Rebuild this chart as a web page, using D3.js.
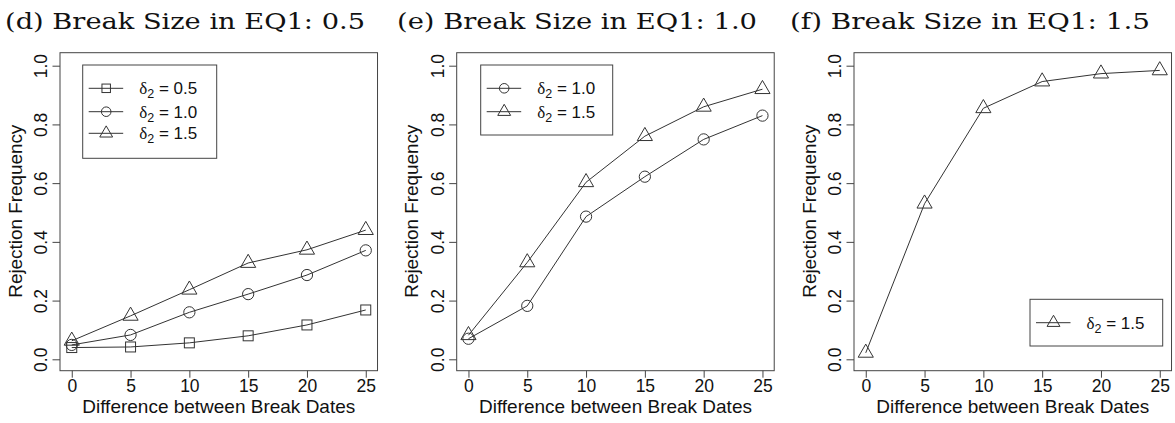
<!DOCTYPE html>
<html>
<head>
<meta charset="utf-8">
<script src="https://cdn.jsdelivr.net/npm/d3@7"></script>
<style>
  html, body { margin: 0; padding: 0; background: #fff; }
  svg { display: block; }
</style>
</head>
<body>
<svg id="chart" width="1175" height="423"></svg>
<script>
// ---------- data ----------
const xValues = [0, 5, 10, 15, 20, 25];
const xTicks = [0, 5, 10, 15, 20, 25];
const yTicks = [0.0, 0.2, 0.4, 0.6, 0.8, 1.0];
const panelTitles = ["(d) Break Size in EQ1: 0.5", "(e) Break Size in EQ1: 1.0", "(f) Break Size in EQ1: 1.5"];
const xAxisTitle = "Difference between Break Dates";
const yAxisTitle = "Rejection Frequency";

// panel (d)
const d_delta05 = [0.040, 0.042, 0.056, 0.080, 0.117, 0.168];
const d_delta10 = [0.049, 0.083, 0.160, 0.222, 0.287, 0.371];
const d_delta15 = [0.063, 0.148, 0.237, 0.328, 0.373, 0.440];
// panel (e)
const e_delta10 = [0.070, 0.182, 0.486, 0.622, 0.749, 0.830];
const e_delta15 = [0.082, 0.330, 0.603, 0.760, 0.860, 0.920];
// panel (f)
const f_delta15 = [0.022, 0.530, 0.855, 0.946, 0.973, 0.984];

const legendLabels = { "0.5": "0.5", "1.0": "1.0", "1.5": "1.5" };

// ---------- layout ----------
const panels = [
  { left: 60,    title: panelTitles[0], titleX: 5,
    series: [ {vals: d_delta05, shape: "square", lab: "0.5"},
              {vals: d_delta10, shape: "circle", lab: "1.0"},
              {vals: d_delta15, shape: "triangle", lab: "1.5"} ],
    legend: { x: 82.7, y: 65, w: 134, h: 93.3, rows: [88.3, 111.7, 133.3] } },
  { left: 456.7, title: panelTitles[1], titleX: 397,
    series: [ {vals: e_delta10, shape: "circle", lab: "1.0"},
              {vals: e_delta15, shape: "triangle", lab: "1.5"} ],
    legend: { x: 480.7, y: 65, w: 132, h: 70, rows: [88.3, 111.7] } },
  { left: 854,   title: panelTitles[2], titleX: 790,
    series: [ {vals: f_delta15, shape: "triangle", lab: "1.5"} ],
    legend: { x: 1030, y: 299.3, w: 132.7, h: 46.7, rows: [322.7] } }
];

const plotTop = 52.7, plotBottom = 370.7;
const xSpan = 294;            // pixels from x=0 to x=25
const pad = xSpan * 0.04;
const boxW = xSpan * 1.08;
const y0px = 359.3, y1px = 65.7;
const lineCol = "#333";
const boxCol = "#444";
const cs = 15;                // symbol size base
const sans = "'Liberation Sans', Arial, sans-serif";

const svg = d3.select("#chart");

function drawSymbol(g, shape, cx, cy, scale) {
  const s = cs * (scale || 1);
  if (shape === "square") {
    const side = 0.665 * s;
    g.append("rect").attr("x", cx - side / 2).attr("y", cy - side / 2)
      .attr("width", side).attr("height", side)
      .attr("fill", "none").attr("stroke", lineCol).attr("stroke-width", 1);
  } else if (shape === "circle") {
    g.append("circle").attr("cx", cx).attr("cy", cy).attr("r", 0.375 * s)
      .attr("fill", "none").attr("stroke", lineCol).attr("stroke-width", 1);
  } else {
    const r = 0.583 * s;
    const xc = r * Math.sqrt(3) / 2, yc = r / 2;
    g.append("path")
      .attr("d", `M${cx},${cy - r}L${cx + xc},${cy + yc}L${cx - xc},${cy + yc}Z`)
      .attr("fill", "none").attr("stroke", lineCol).attr("stroke-width", 1);
  }
}

panels.forEach(p => {
  const g = svg.append("g");
  const x = d3.scaleLinear().domain([0, 25]).range([p.left + pad, p.left + pad + xSpan]);
  const y = d3.scaleLinear().domain([0, 1]).range([y0px, y1px]);

  // title
  g.append("text").attr("x", p.titleX).attr("y", 28.5)
    .attr("font-family", "'DejaVu Serif', 'Liberation Serif', serif")
    .attr("font-size", 23).attr("fill", "#111")
    .attr("textLength", 360).attr("lengthAdjust", "spacingAndGlyphs")
    .text(p.title);

  // box
  g.append("rect").attr("x", p.left).attr("y", plotTop)
    .attr("width", boxW).attr("height", plotBottom - plotTop)
    .attr("fill", "none").attr("stroke", boxCol).attr("stroke-width", 1);

  // x axis
  const xAxis = d3.axisBottom(x).tickValues(xTicks).tickSize(7).tickPadding(3)
    .tickFormat(d3.format("d"));
  const gx = g.append("g").attr("transform", `translate(0,${plotBottom})`).call(xAxis);
  gx.select(".domain").remove();
  gx.selectAll(".tick line").attr("stroke", boxCol);
  gx.selectAll(".tick text").attr("font-family", sans)
    .attr("font-size", 17.5).attr("fill", "#111").attr("dy", null).attr("y", 21.5);

  // y axis
  const yAxis = d3.axisLeft(y).tickValues(yTicks).tickSize(7.5).tickFormat(d3.format(".1f"));
  const gy = g.append("g").attr("transform", `translate(${p.left},0)`).call(yAxis);
  gy.select(".domain").remove();
  gy.selectAll(".tick line").attr("stroke", boxCol);
  gy.selectAll(".tick text")
    .attr("font-family", sans)
    .attr("font-size", 17.5).attr("fill", "#111")
    .attr("x", null).attr("dy", null)
    .attr("text-anchor", "middle")
    .attr("transform", "translate(-13,0) rotate(-90)");

  // axis titles
  g.append("text")
    .attr("x", p.left + boxW / 2).attr("y", 413)
    .attr("text-anchor", "middle")
    .attr("font-family", sans)
    .attr("font-size", 18.5).attr("fill", "#111")
    .attr("textLength", 273).attr("lengthAdjust", "spacingAndGlyphs")
    .text(xAxisTitle);
  g.append("text")
    .attr("transform", `translate(${p.left - 38.5},${(plotTop + plotBottom) / 2 - 0.5}) rotate(-90)`)
    .attr("text-anchor", "middle")
    .attr("font-family", sans)
    .attr("font-size", 18.3).attr("fill", "#111")
    .attr("textLength", 173).attr("lengthAdjust", "spacingAndGlyphs")
    .text(yAxisTitle);

  // series
  const line = d3.line().x((d, i) => x(xValues[i])).y(d => y(d));
  p.series.forEach(s => {
    g.append("path").attr("d", line(s.vals))
      .attr("fill", "none").attr("stroke", lineCol).attr("stroke-width", 1);
    s.vals.forEach((v, i) => drawSymbol(g, s.shape, x(xValues[i]), y(v), 1));
  });

  // legend
  const L = p.legend;
  g.append("rect").attr("x", L.x).attr("y", L.y).attr("width", L.w).attr("height", L.h)
    .attr("fill", "#fff").attr("stroke", boxCol).attr("stroke-width", 1);
  p.series.forEach((s, i) => {
    const ry = L.rows[i];
    g.append("line").attr("x1", L.x + 6).attr("x2", L.x + 40.5)
      .attr("y1", ry).attr("y2", ry).attr("stroke", lineCol).attr("stroke-width", 1);
    drawSymbol(g, s.shape, L.x + 23.5, ry, 0.85);
    const t = g.append("text").attr("x", L.x + 56.5).attr("y", ry + 6)
      .attr("font-family", sans)
      .attr("font-size", 17).attr("fill", "#111");
    t.append("tspan").attr("font-family", "'Liberation Serif', 'DejaVu Serif', serif").text("δ");
    t.append("tspan").attr("font-size", 12.5).attr("dy", 4).text("2");
    t.append("tspan").attr("dy", -4).text(" = " + legendLabels[s.lab]);
  });
});
</script>
</body>
</html>
